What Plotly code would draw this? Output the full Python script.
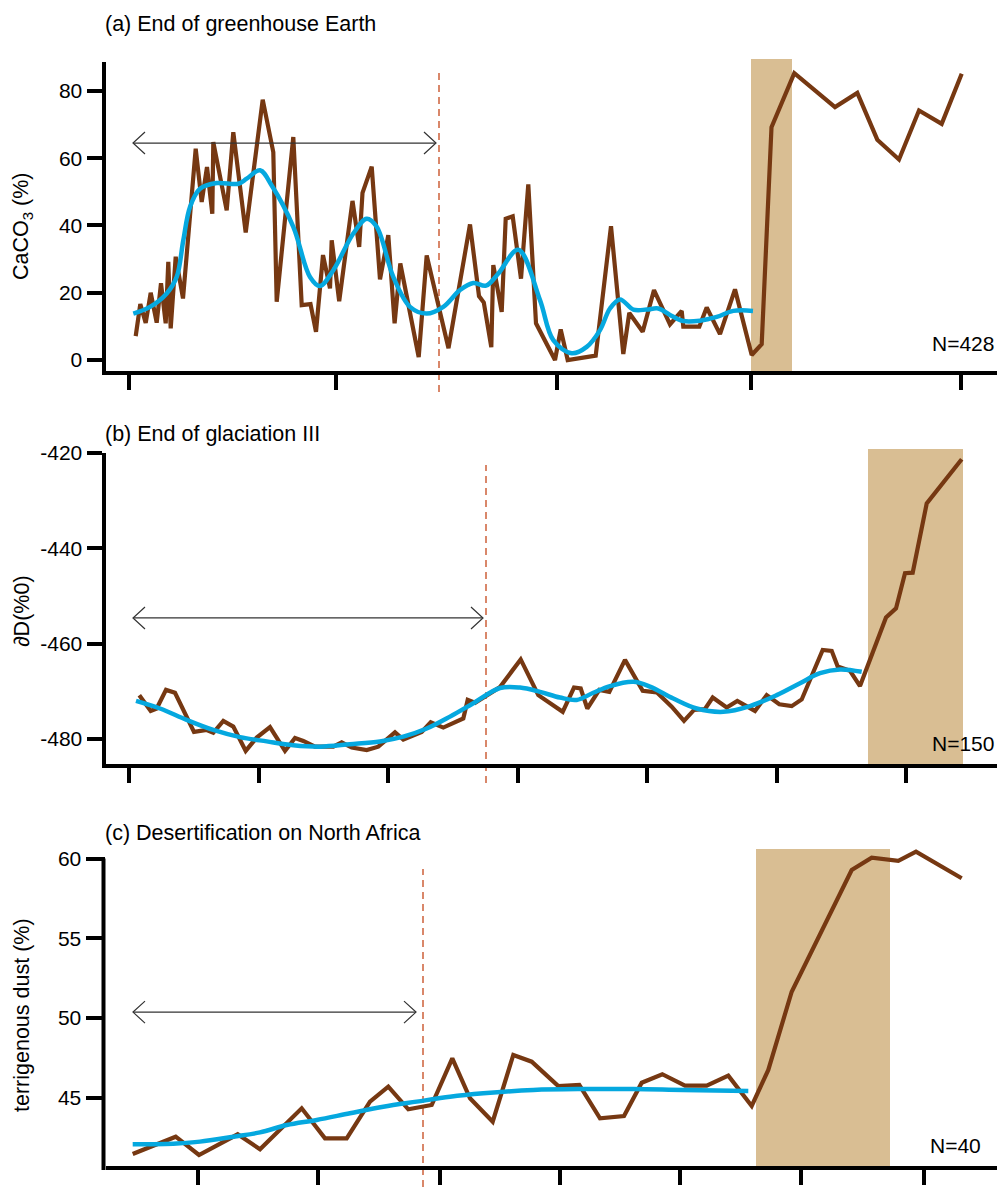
import plotly.graph_objects as go

# ---------------------------------------------------------------
# Data (x: relative time units along each record, y: proxy value)
# ---------------------------------------------------------------

# (a) CaCO3 record
a_raw_x = [3.17, 3.63, 4.17, 4.67, 5.27, 5.7, 6.17, 6.43, 6.67, 7.17, 7.9, 9.17, 9.77, 10.3,
           10.83, 10.93, 12.27, 12.93, 14.17, 15.87, 16.93, 17.27, 18.93, 19.77, 20.65, 21.2,
           21.9, 22.6, 22.77, 23.52, 24.85, 25.52, 25.85, 26.77, 27.6, 28.43, 29.06, 29.63,
           31.47, 32.27, 34.45, 36.6, 37.5, 37.98, 38.73, 38.93, 39.77, 40.17, 40.87, 41.7,
           42.43, 43.2, 45.1, 45.67, 46.37, 49.17, 50.7, 51.93, 52.53, 53.87, 55.0, 56.6,
           57.77, 57.93, 59.53, 60.27, 61.6, 63.1, 64.77, 65.77, 66.75, 69.03, 73.1, 75.33,
           77.33, 79.5, 81.5, 83.77, 85.77]
a_raw_y = [7.1, 16.6, 11.0, 20.0, 11.1, 22.8, 10.9, 29.2, 9.4, 30.7, 18.3, 62.8, 47.0, 57.4,
           43.5, 64.8, 44.5, 67.7, 37.9, 77.4, 61.8, 17.3, 66.3, 16.3, 16.6, 8.4,
           31.2, 21.3, 35.6, 17.5, 47.3, 33.6, 49.7, 57.5, 24.0, 37.1, 10.9, 28.7,
           0.9, 31.1, 3.5, 40.3, 19.0, 17.1, 3.8, 28.2, 14.3, 42.0, 42.7, 24.2,
           52.2, 10.9, 0.0, 9.1, 0.0, 1.3, 39.8, 1.8, 14.0, 8.4, 20.8, 10.6,
           14.6, 9.9, 9.9, 15.6, 7.7, 21.0, 1.5, 4.7, 69.2, 85.3, 75.2, 79.4,
           65.5, 59.6, 74.2, 70.2, 85.1]
a_fit_x = [2.93, 4.6, 6.27, 7.27, 7.93, 8.6, 9.6, 11.27, 13.43, 14.27, 15.6, 16.77, 18.93,
           20.6, 21.6, 22.93, 24.93, 26.27, 27.27, 28.93, 30.6, 32.27, 33.93, 35.6, 36.93,
           38.2, 39.43, 41.43, 43.6, 44.93, 46.77, 48.27, 49.6, 50.6, 51.6, 52.93, 54.27,
           55.43, 56.6, 57.93, 59.6, 61.27, 62.93, 64.9]
a_fit_y = [13.8, 15.8, 19.8, 24.7, 35.6, 45.5, 50.9, 52.6, 52.4, 53.9, 56.4, 51.9, 39.6,
           24.7, 22.0, 26.7, 37.6, 42.0, 39.6, 24.7, 15.8, 13.8, 15.8, 20.8, 22.9,
           22.1, 25.7, 32.8, 17.8, 5.9, 2.0, 3.9, 8.9, 15.3, 18.0, 15.0, 15.0,
           15.3, 13.4, 11.6, 11.7, 12.8, 14.6, 14.6]

# (b) deuterium record
b_raw_x = [3.53, 4.67, 5.27, 6.2, 7.1, 9.0, 10.27, 10.93, 11.93, 12.93, 14.17, 15.27, 16.6,
           18.1, 19.1, 19.93, 21.1, 22.93, 23.77, 24.77, 26.27, 27.43, 29.1, 29.93, 31.77,
           32.67, 33.93, 35.93, 36.37, 37.1, 39.6, 41.67, 43.43, 45.87, 47.0, 47.67, 48.33,
           49.53, 50.53, 52.1, 53.87, 55.27, 56.77, 58.0, 59.0, 60.1, 60.87, 62.27, 63.33,
           65.1, 66.27, 67.53, 68.77, 69.77, 71.87, 72.77, 73.37, 74.6, 75.6, 78.2, 79.2,
           80.1, 80.87, 82.27, 85.77]
b_raw_y = [-470.8, -474.1, -473.6, -469.7, -470.3, -478.5, -478.1, -478.7, -476.2, -477.4,
           -482.5, -479.7, -477.5, -482.5, -479.8, -480.4, -481.6, -481.6, -480.7, -481.8,
           -482.3, -481.6, -478.6, -480.1, -478.5, -476.5, -477.6, -475.7, -471.8, -472.4,
           -469.1, -463.3, -470.8, -474.3, -469.2, -469.4, -473.6, -469.7, -470.1, -463.4,
           -469.9, -470.2, -473.2, -476.2, -473.9, -473.7, -471.3, -473.4, -472.0, -474.1,
           -470.8, -472.7, -473.1, -471.7, -461.3, -461.5, -464.8, -465.7, -468.9, -454.5,
           -452.6, -445.2, -445.1, -430.6, -421.3]
b_fit_x = [3.2, 5.6, 8.27, 10.93, 13.6, 16.27, 18.93, 21.6, 24.6, 27.6, 29.93, 32.27, 34.6,
           36.93, 39.6, 41.6, 43.6, 45.6, 47.27, 48.93, 50.6, 52.93, 54.6, 56.93, 59.27,
           61.93, 64.6, 67.27, 69.6, 71.6, 73.6, 75.77]
b_fit_y = [-472.0, -473.6, -476.0, -478.1, -479.6, -480.5, -481.3, -481.6, -481.1, -480.5,
           -479.5, -477.8, -475.3, -472.5, -469.3, -469.2, -470.1, -471.3, -471.8, -470.3,
           -468.9, -468.0, -469.0, -471.5, -473.6, -474.3, -473.1, -470.8, -468.3, -466.2,
           -465.4, -465.9]

# (c) terrigenous dust record
c_raw_x = [2.87, 7.17, 9.5, 13.37, 15.6, 19.77, 22.1, 24.27, 26.6, 28.43, 30.43, 32.77,
           34.83, 36.6, 38.87, 40.93, 42.77, 45.43, 47.53, 49.6, 52.0, 53.77, 55.83, 58.1,
           60.27, 62.43, 64.77, 66.43, 68.77, 74.77, 76.77, 79.43, 81.2, 85.77]
c_raw_y = [41.45, 42.54, 41.39, 42.69, 41.75, 44.32, 42.44, 42.44, 44.74, 45.68, 44.26, 44.53,
           47.46, 44.95, 43.48, 47.67, 47.25, 45.72, 45.79, 43.69, 43.84, 45.93, 46.46, 45.74,
           45.74, 46.37, 44.47, 46.73, 51.64, 59.28, 60.05, 59.86, 60.43, 58.76]
c_fit_x = [2.87, 7.27, 9.6, 12.93, 15.6, 18.27, 21.27, 24.6, 27.93, 31.27, 34.6, 37.93,
           42.93, 47.93, 52.93, 57.93, 64.43]
c_fit_y = [42.06, 42.12, 42.23, 42.54, 42.81, 43.27, 43.59, 44.01, 44.42, 44.74, 45.05, 45.26,
           45.47, 45.53, 45.53, 45.47, 45.41]

# Panel annotations
titles = ["(a) End of greenhouse Earth", "(b) End of glaciation III",
          "(c) Desertification on North Africa"]
y_titles = ["CaCO<sub>3</sub> (%)", "\u2202D(%0)", "terrigenous dust (%)"]
n_labels = ["N=428", "N=150", "N=40"]
y_ticks = [[0, 20, 40, 60, 80], [-480, -460, -440, -420], [45, 50, 55, 60]]
y_ticktext = [["0", "20", "40", "60", "80"], ["-480", "-460", "-440", "-420"],
              ["45", "50", "55", "60"]]
x_ticks = [[2.5, 23.2, 45.3, 64.7, 85.7],
           [2.5, 15.45, 28.4, 41.35, 54.3, 67.25, 80.2],
           [9.4, 21.4, 33.6, 45.6, 57.6, 69.7, 82.0]]
transition = [(64.7, 68.8), (76.4, 85.9), (65.2, 78.6)]   # shaded abrupt-change window
onset_x = [33.5, 38.2, 31.9]                                # early-warning onset
window = [(2.9, 33.2, 64.5), (2.9, 37.9, -454.6), (2.9, 31.2, 50.36)]  # analysis window

# ---------------------------------------------------------------
# Styling / layout
# ---------------------------------------------------------------
H = 1187.0
FONT = "Liberation Sans, Arial, Helvetica, sans-serif"
BROWN = "#763812"
BLUE = "#05A8DF"
TAN = "#D9BE93"
SALMON = "#D9876A"
X_LEFT = 0.1055


def py(px):
    return 1 - px / H


# panel (c) keeps some headroom above its top tick so the record is not clipped;
# its y-axis spine is drawn separately and stops at the top tick
y_domains = [[py(371), py(62)], [py(764), py(453)], [py(1166), py(849)]]
y_ranges = [[-3.27, 88.6], [-485.24, -420], [40.70, 60.6]]
own_spine = [False, False, True]
spine_top = [None, None, py(858.5)]
rect_tops = [py(59), py(449), py(849)]
dash_spans = [(py(392), py(73)), (py(783), py(465)), (0.0, py(869))]
title_y = [py(24), py(434), py(833)]
ytitle_y = [py(226), py(611), py(1015)]
n_pos = [(0.996, py(343)), (0.996, py(743)), (0.983, py(1145))]

raws = [(a_raw_x, a_raw_y), (b_raw_x, b_raw_y), (c_raw_x, c_raw_y)]
fits = [(a_fit_x, a_fit_y), (b_fit_x, b_fit_y), (c_fit_x, c_fit_y)]

fig = go.Figure()
shapes = []
annotations = []

for i in range(3):
    sfx = "" if i == 0 else str(i + 1)
    xa, ya = "x" + sfx, "y" + sfx

    fig.add_trace(go.Scatter(x=raws[i][0], y=raws[i][1], mode="lines",
                             line=dict(color=BROWN, width=4.2), xaxis=xa, yaxis=ya,
                             hoverinfo="skip"))
    fig.add_trace(go.Scatter(x=fits[i][0], y=fits[i][1], mode="lines",
                             line=dict(color=BLUE, width=4.5, shape="spline", smoothing=1.0),
                             xaxis=xa, yaxis=ya, hoverinfo="skip"))

    axis_common = dict(linewidth=4, linecolor="black", ticks="outside",
                       tickwidth=4, tickcolor="black", showgrid=False,
                       zeroline=False, automargin=False)
    fig.layout["xaxis" + sfx] = dict(domain=[X_LEFT, 0.997], range=[0.15, 89.3],
                                     tickvals=x_ticks[i], showticklabels=False,
                                     showline=True, ticklen=15, anchor=ya, **axis_common)
    fig.layout["yaxis" + sfx] = dict(domain=y_domains[i], range=y_ranges[i],
                                     tickvals=y_ticks[i], ticktext=y_ticktext[i], anchor=xa,
                                     showline=not own_spine[i],
                                     ticklen=19 if own_spine[i] else 15,
                                     tickfont=dict(size=21, color="black", family=FONT),
                                     **axis_common)
    if own_spine[i]:
        shapes.append(dict(type="line", xref="paper", yref="paper",
                           x0=X_LEFT - 0.002, x1=X_LEFT - 0.002,
                           y0=y_domains[i][0] - 4 / H, y1=spine_top[i],
                           line=dict(color="black", width=4), layer="above"))

    # shaded transition window
    x0, x1 = transition[i]
    shapes.append(dict(type="rect", xref=xa, yref="paper", x0=x0, x1=x1,
                       y0=y_domains[i][0], y1=rect_tops[i], fillcolor=TAN,
                       line=dict(width=0), layer="below"))
    # onset marker
    shapes.append(dict(type="line", xref=xa, yref="paper", x0=onset_x[i], x1=onset_x[i],
                       y0=dash_spans[i][0], y1=dash_spans[i][1],
                       line=dict(color=SALMON, width=2, dash="7px,5px"), layer="below"))
    # double-headed arrow marking the analysis window
    wx0, wx1, wy = window[i]
    shapes.append(dict(type="line", xref=xa, yref=ya, x0=wx0, x1=wx1, y0=wy, y1=wy,
                       line=dict(color="#333333", width=1.2), layer="above"))
    shapes.append(dict(type="path", xref=xa, yref=ya, xsizemode="pixel", ysizemode="pixel",
                       xanchor=wx0, yanchor=wy, path="M12,11 L0,0 L12,-11",
                       line=dict(color="#333333", width=1.2), layer="above"))
    shapes.append(dict(type="path", xref=xa, yref=ya, xsizemode="pixel", ysizemode="pixel",
                       xanchor=wx1, yanchor=wy, path="M-12,11 L0,0 L-12,-11",
                       line=dict(color="#333333", width=1.2), layer="above"))

    annotations.append(dict(text=titles[i], xref="paper", yref="paper", x=0.103,
                            y=title_y[i], xanchor="left", yanchor="middle", showarrow=False,
                            font=dict(size=21.5, color="black", family=FONT)))
    annotations.append(dict(text=y_titles[i], xref="paper", yref="paper", x=0.022,
                            y=ytitle_y[i], xanchor="center", yanchor="middle",
                            textangle=-90, showarrow=False,
                            font=dict(size=21.5, color="black", family=FONT)))
    annotations.append(dict(text=n_labels[i], xref="paper", yref="paper", x=n_pos[i][0],
                            y=n_pos[i][1], xanchor="right", yanchor="middle",
                            showarrow=False, font=dict(size=21, color="black", family=FONT)))

fig.update_layout(width=1000, height=1187, margin=dict(l=0, r=0, t=0, b=0, pad=0,
                                                       autoexpand=False),
                  paper_bgcolor="white", plot_bgcolor="white", showlegend=False,
                  shapes=shapes, annotations=annotations,
                  font=dict(family=FONT, color="black"))

fig.write_html("out.html")
